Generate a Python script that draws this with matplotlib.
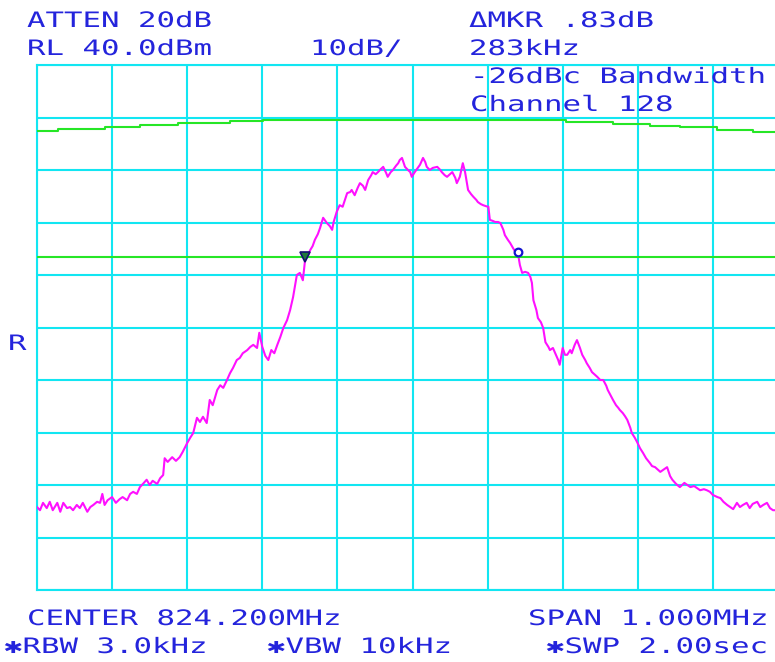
import matplotlib
matplotlib.use("Agg")
import matplotlib.pyplot as plt
from matplotlib.patheffects import AbstractPathEffect
from matplotlib.transforms import Affine2D
import numpy as np

center_mhz = 824.2
span_mhz = 1.0
ref_level_dbm = 40.0
db_per_div = 10.0

# trace A (magenta): frequency offset from centre (kHz) and level (dBm)
trace_khz = [
    -500, -496, -492, -487, -483, -479, -473, -469, -465, -460,
    -456, -452, -447, -443, -439, -433, -429, -425, -420, -416,
    -413, -410, -406, -400, -395, -390, -386, -380, -376, -372,
    -367, -363, -359, -354, -350, -346, -340, -336, -332, -330,
    -326, -320, -315, -310, -306, -300, -296, -292, -287, -283,
    -279, -274, -270, -266, -260, -256, -252, -247, -243, -239,
    -234, -230, -226, -220, -216, -212, -207, -204, -200, -196,
    -192, -188, -184, -180, -176, -172, -167, -163, -159, -154,
    -150, -146, -143, -139, -136, -133, -130, -126, -123, -119,
    -114, -110, -107, -105, -101, -97, -93, -87, -83, -81,
    -77, -73, -70, -66, -63, -59, -55, -53, -49, -46,
    -42, -39, -35, -33, -29, -26, -22, -19, -17, -14,
    -10, -6, -3, -1, 3, 7, 10, 14, 17, 19,
    23, 27, 33, 37, 39, 43, 46, 50, 53, 57,
    59, 63, 67, 70, 74, 78, 81, 85, 87, 91,
    94, 98, 101, 103, 107, 110, 114, 117, 121, 123,
    127, 130, 134, 137, 141, 143, 146, 150, 154, 157,
    159, 161, 165, 167, 171, 174, 177, 181, 183, 187,
    190, 194, 196, 200, 203, 206, 210, 212, 216, 219,
    223, 226, 230, 232, 236, 239, 243, 246, 250, 254,
    258, 260, 264, 267, 271, 274, 276, 280, 283, 286,
    290, 292, 296, 299, 303, 307, 311, 316, 319, 323,
    327, 330, 334, 339, 343, 346, 351, 356, 362, 366,
    370, 375, 379, 383, 388, 392, 396, 400, 406, 410,
    414, 419, 423, 427, 432, 436, 440, 445, 449, 453,
    459, 463, 467, 472, 476, 480, 484,
]
trace_dbm = [
    -44.2, -44.8, -43.4, -44.4, -43.2, -44.8, -43.4, -45.1, -43.4, -44.4,
    -44.2, -44.8, -43.8, -44.4, -43.4, -45.1, -44.2, -43.8, -43.2, -43.4,
    -41.7, -43.8, -42.9, -42.3, -43.4, -42.7, -42.3, -42.9, -41.7, -41.3,
    -41.7, -40.4, -39.8, -39.0, -40.0, -39.2, -39.8, -38.7, -38.1, -34.9,
    -35.6, -34.7, -35.4, -34.7, -33.7, -32.0, -31.0, -30.1, -27.2, -28.0,
    -27.0, -28.2, -23.8, -24.8, -21.9, -21.0, -21.5, -20.0, -18.7, -17.7,
    -16.2, -15.8, -14.9, -14.3, -13.7, -13.3, -13.9, -11.0, -13.7, -15.4,
    -16.2, -14.3, -14.9, -13.3, -11.8, -10.1, -8.6, -6.7, -4.2, 0.0,
    0.4, -1.0, 2.9, 3.8, 4.8, 5.5, 6.7, 7.8, 9.0, 10.9,
    9.9, 9.3, 8.6, 10.1, 12.0, 13.3, 13.0, 15.6, 15.8, 16.2,
    15.2, 16.6, 17.5, 17.0, 16.2, 18.1, 19.0, 19.6, 19.2, 19.6,
    20.2, 20.6, 19.4, 18.7, 19.6, 20.0, 20.8, 21.3, 21.9, 22.3,
    20.6, 20.0, 19.6, 18.7, 19.6, 20.4, 21.0, 22.3, 21.5, 20.6,
    20.0, 20.4, 20.6, 20.0, 19.6, 19.0, 18.7, 19.2, 19.6, 18.5,
    17.5, 18.7, 21.3, 19.6, 16.2, 15.4, 14.9, 14.3, 13.9, 13.5,
    13.3, 13.1, 13.0, 10.5, 10.3, 10.1, 10.1, 9.9, 8.6, 7.6,
    6.7, 6.1, 5.1, 4.4, 3.6, 1.9, 0.4, 0.6, 0.4, -0.4,
    -1.5, -4.8, -6.7, -8.2, -9.0, -10.1, -12.8, -13.7, -14.3, -13.9,
    -14.9, -16.2, -17.1, -13.9, -15.2, -15.2, -14.3, -14.9, -13.3, -12.4,
    -13.9, -15.2, -16.2, -16.8, -17.7, -18.5, -19.0, -19.4, -20.0, -20.0,
    -21.1, -21.9, -23.0, -23.8, -24.8, -25.3, -25.7, -26.3, -26.9, -27.6,
    -29.1, -30.1, -31.0, -31.8, -33.0, -33.9, -34.9, -35.8, -36.4, -36.6,
    -37.1, -37.5, -37.1, -36.6, -38.3, -39.0, -39.8, -40.4, -39.6, -40.0,
    -40.4, -40.2, -40.6, -41.0, -40.8, -41.0, -41.3, -41.9, -42.3, -42.5,
    -43.2, -43.8, -44.2, -44.6, -43.4, -44.2, -43.8, -43.4, -44.4, -43.6,
    -43.2, -44.2, -43.8, -43.4, -44.4, -44.8, -44.8,
]

# trace B (green, max hold)
maxhold_khz = [-500, -472, -409, -363, -312, -243, -199, 205, 267, 316, 356, 405, 453, 484]
maxhold_dbm = [27.5, 27.9, 28.2, 28.6, 28.9, 29.3, 29.5, 29.1, 28.8, 28.4, 28.1, 27.6, 27.2, 27.2]

# display line (-26 dBc)
display_line_dbm = 3.5

# markers
marker_khz = [-143, 140]
marker_dbm = [3.5, 4.3]

# annotation texts: (string, left px, baseline px)
labels = [
    ("ATTEN 20dB", 27, 27),
    ("RL 40.0dBm", 27, 55),
    ("10dB/", 310, 55),
    ("\u0394MKR .83dB", 469, 27),
    ("283kHz", 469, 55),
    ("-26dBc Bandwidth", 470, 83),
    ("Channel 128", 470, 111),
    ("R", 8, 350),
    ("CENTER 824.200MHz", 27, 625),
    ("SPAN 1.000MHz", 528, 625),
    ("\u2731RBW 3.0kHz", 4, 653),
    ("\u2731VBW 10kHz", 267, 653),
    ("\u2731SWP 2.00sec", 546, 653),
]

# ---------------- styling ----------------
W, H, DPI = 775, 662, 100
CYAN = "#12e6f2"
MAGENTA = "#ff10ff"
GREEN = "#26e626"
TEXT_BLUE = "#2424dc"

fig = plt.figure(figsize=(W / DPI, H / DPI), dpi=DPI)
fig.patch.set_facecolor("white")
ax = fig.add_axes([37 / W, 1 - 590 / H, 751 / W, 525 / H])
ax.set_facecolor("white")

f0 = center_mhz - span_mhz / 2
ax.set_xlim(f0, f0 + span_mhz)
ax.set_ylim(ref_level_dbm - 10 * db_per_div, ref_level_dbm)
ax.set_xticks(f0 + np.arange(11) * span_mhz / 10)
ax.set_yticks(ref_level_dbm - np.arange(11) * db_per_div)
ax.tick_params(length=0, labelbottom=False, labelleft=False)
ax.grid(True, color=CYAN, lw=1.5)
for s in ax.spines.values():
    s.set_color(CYAN)
    s.set_linewidth(1.5)

fx = center_mhz + np.asarray(trace_khz) / 1000.0
ax.plot(fx, trace_dbm, color=MAGENTA, lw=1.5, zorder=3)

mx = center_mhz + np.asarray(maxhold_khz) / 1000.0
ax.plot(mx, maxhold_dbm, color=GREEN, lw=1.5, drawstyle="steps-post", zorder=3)
ax.axhline(display_line_dbm, color=GREEN, lw=1.5, zorder=3)

mk = center_mhz + np.asarray(marker_khz) / 1000.0
ax.plot(mk[0], marker_dbm[0], marker="v", ms=7, mfc="#1f7a3a", mec="#101070", mew=1.2, zorder=4)
ax.plot(mk[1], marker_dbm[1], marker="o", ms=5.5, mfc="white", mec="#1414d0", mew=1.6, zorder=4)


class StretchX(AbstractPathEffect):
    """Widen glyphs horizontally about the text origin (instrument font look)."""

    def __init__(self, x0, sx):
        super().__init__()
        self._x0 = x0
        self._sx = sx

    def draw_path(self, renderer, gc, tpath, affine, rgbFace=None):
        t = affine + Affine2D().translate(-self._x0, 0).scale(self._sx, 1.0).translate(self._x0, 0)
        renderer.draw_path(gc, tpath, t, rgbFace)


FS = 15.3
advance_px = 0.602 * FS * DPI / 72.0
SX = 18.5 / advance_px

for s, xp, yp in labels:
    fig.text(xp / W, 1 - yp / H, s, color=TEXT_BLUE, fontsize=FS,
             family=["DejaVu Sans Mono", "DejaVu Sans"], ha="left", va="baseline",
             path_effects=[StretchX(xp, SX)], zorder=5)

fig.savefig("out.png", dpi=DPI, facecolor="white")
